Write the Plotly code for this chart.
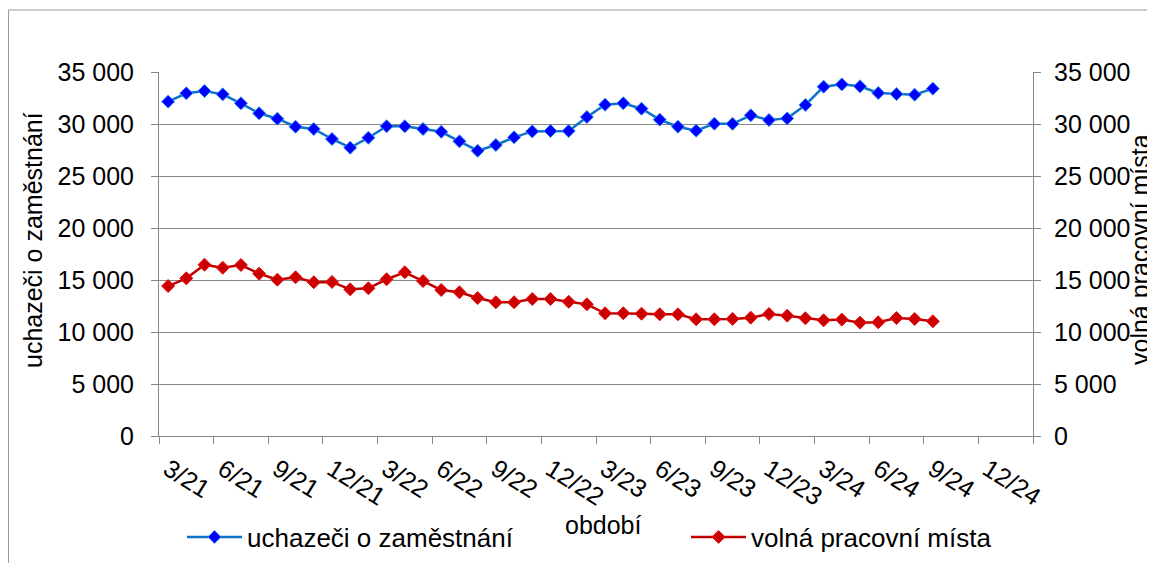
import plotly.graph_objects as go

# ---- data ----
months = ["3/21", "4/21", "5/21", "6/21", "7/21", "8/21", "9/21", "10/21", "11/21", "12/21",
          "1/22", "2/22", "3/22", "4/22", "5/22", "6/22", "7/22", "8/22", "9/22", "10/22", "11/22", "12/22",
          "1/23", "2/23", "3/23", "4/23", "5/23", "6/23", "7/23", "8/23", "9/23", "10/23", "11/23", "12/23",
          "1/24", "2/24", "3/24", "4/24", "5/24", "6/24", "7/24", "8/24", "9/24", "10/24", "11/24", "12/24",
          "1/25", "2/25"]
tick_labels = ["3/21", "6/21", "9/21", "12/21", "3/22", "6/22", "9/22", "12/22",
               "3/23", "6/23", "9/23", "12/23", "3/24", "6/24", "9/24", "12/24"]
uchazeci = [32150, 32950, 33170, 32850, 31990, 31030, 30510, 29740, 29520, 28560, 27720, 28680,
            29780, 29780, 29520, 29250, 28330, 27430, 27980, 28720, 29290, 29330, 29330, 30670,
            31860, 31990, 31470, 30420, 29740, 29360, 30030, 30020, 30830, 30380, 30540, 31830,
            33590, 33810, 33620, 32980, 32880, 32820, 33400]
volna = [14420, 15160, 16470, 16180, 16440, 15610, 15030, 15260, 14780, 14810, 14100, 14200,
         15070, 15740, 14900, 14040, 13820, 13270, 12860, 12860, 13170, 13170, 12910, 12660,
         11800, 11800, 11760, 11700, 11700, 11220, 11220, 11260, 11380, 11730, 11570, 11320,
         11120, 11190, 10900, 10930, 11340, 11250, 11030]
y_ticks = [0, 5000, 10000, 15000, 20000, 25000, 30000, 35000]

FONT = "Liberation Sans, Arial, sans-serif"
GRID = "#878787"
FS = 25

fig = go.Figure()
fig.add_trace(go.Scatter(
    x=months[:len(uchazeci)], y=uchazeci, name="uchazeči o zaměstnání",
    mode="lines+markers", legend="legend",
    line=dict(color="#0A72C8", width=2.5),
    marker=dict(symbol="diamond", size=10, color="#0000FF", line=dict(color="#2E8BEF", width=1)),
))
fig.add_trace(go.Scatter(
    x=months[:len(volna)], y=volna, name="volná pracovní místa", yaxis="y2",
    mode="lines+markers", legend="legend2",
    line=dict(color="#C00000", width=2.5),
    marker=dict(symbol="diamond", size=10, color="#CC0000", line=dict(color="#E81010", width=1)),
))
# helper axis for boundary tick marks
fig.add_trace(go.Scatter(x=[], y=[], xaxis="x2", showlegend=False, hoverinfo="skip"))

# the page body adds an 8 px offset; layout is expressed in screen pixels
OFF = 8
SW, SH = 1155, 563
W, H = SW - OFF, SH - OFF
SL, SR, ST, SB = 159, 1033, 72, 436          # plot area on screen
L, R, T, B = SL - OFF, SR - OFF, ST - OFF, SB - OFF


def px(x):
    return (x - SL) / (SR - SL)


def py(y):
    return (SB - y) / (SB - ST)


def cx(x):
    return (x - OFF) / W


def cy(y):
    return 1 - (y - OFF) / H


fig.update_layout(
    width=W, height=H,
    margin=dict(l=L, r=W - R, t=T, b=H - B, autoexpand=False),
    paper_bgcolor="white", plot_bgcolor="white",
    font=dict(family=FONT, size=FS, color="black"),
    separators=", ",
    showlegend=True,
    xaxis=dict(
        type="category", categoryorder="array", categoryarray=months,
        range=[-0.5, len(months) - 0.5],
        tickmode="array", tickvals=tick_labels, ticktext=tick_labels,
        tickangle=32, ticks="", showgrid=False, zeroline=False,
        showline=True, linecolor=GRID, linewidth=1, automargin=False,
        ticklabelstandoff=8, tickfont=dict(size=FS),
    ),
    xaxis2=dict(
        overlaying="x", anchor="y", side="bottom", type="linear",
        range=[-0.5, len(months) - 0.5],
        tickmode="linear", tick0=-0.5, dtick=3,
        ticks="outside", ticklen=7, tickcolor=GRID, tickwidth=1,
        showticklabels=False, showgrid=False, zeroline=False, showline=False,
        automargin=False,
    ),
    yaxis=dict(
        range=[0, 35000], tickmode="array", tickvals=y_ticks, tickformat=",d",
        showgrid=True, gridcolor=GRID, gridwidth=1, zeroline=False,
        showline=True, linecolor=GRID, linewidth=1, automargin=False,
        ticks="outside", ticklen=7, tickcolor=GRID,
        ticklabelstandoff=12, tickfont=dict(size=FS),
    ),
    yaxis2=dict(
        overlaying="y", side="right", anchor="x",
        range=[0, 35000], tickmode="array", tickvals=y_ticks, tickformat=",d",
        showgrid=False, zeroline=False, automargin=False,
        showline=True, linecolor=GRID, linewidth=1,
        ticks="outside", ticklen=7, tickcolor=GRID,
        ticklabelstandoff=8, tickfont=dict(size=FS),
    ),
    legend=dict(
        orientation="h", xref="container", yref="container",
        x=cx(182), y=cy(537), xanchor="left", yanchor="middle",
        font=dict(size=26), bgcolor="rgba(0,0,0,0)", itemwidth=55,
    ),
    legend2=dict(
        orientation="h", xref="container", yref="container",
        x=cx(686), y=cy(537), xanchor="left", yanchor="middle",
        font=dict(size=26), bgcolor="rgba(0,0,0,0)", itemwidth=55,
    ),
    annotations=[
        dict(text="uchazeči o zaměstnání", xref="paper", yref="paper",
             x=px(33), y=py(240), textangle=-90, showarrow=False,
             font=dict(size=FS), xanchor="center", yanchor="middle"),
        dict(text="volná pracovní místa", xref="paper", yref="paper",
             x=px(1140), y=py(250), textangle=-90, showarrow=False,
             font=dict(size=FS), xanchor="center", yanchor="middle"),
        dict(text="období", xref="paper", yref="paper",
             x=px(603), y=py(525), showarrow=False,
             font=dict(size=FS), xanchor="center", yanchor="middle"),
    ],
    shapes=[
        dict(type="rect", xref="paper", yref="paper",
             x0=px(8.5), x1=px(1200), y0=py(10), y1=py(600),
             line=dict(color="#9A9A9A", width=1), layer="below"),
    ],
)

fig.write_html("out.html")
